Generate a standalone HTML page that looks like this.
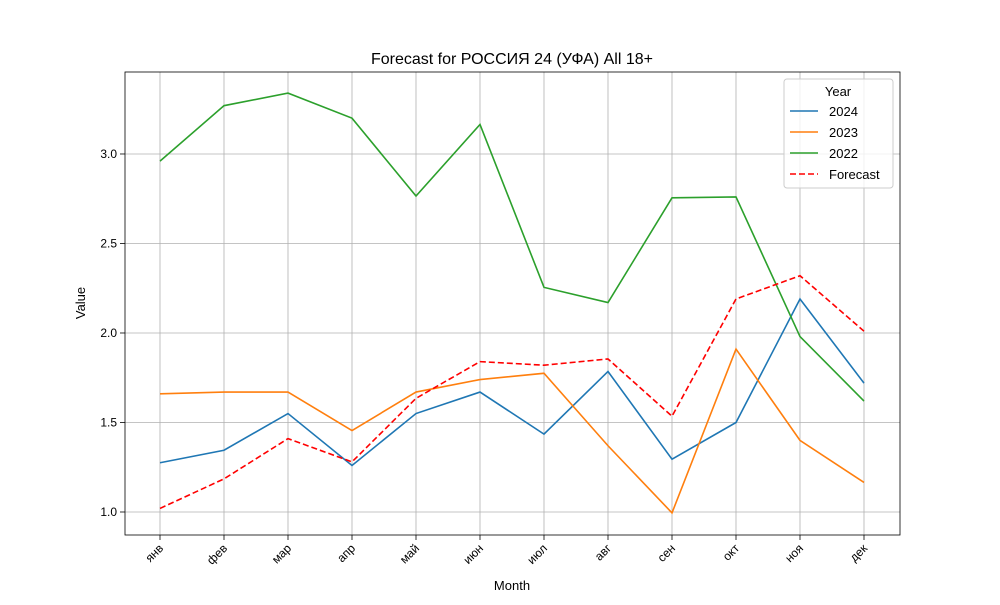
<!DOCTYPE html>
<html><head><meta charset="utf-8"><style>
body{margin:0;background:#fff;font-family:"Liberation Sans","DejaVu Sans",sans-serif}
</style></head><body>
<svg id="chart" width="1000" height="600" xmlns="http://www.w3.org/2000/svg"></svg>
<script>
const months=["янв","фев","мар","апр","май","июн","июл","авг","сен","окт","ноя","дек"];
const s2024=[1.275,1.345,1.55,1.26,1.55,1.67,1.435,1.785,1.295,1.50,2.19,1.72];
const s2023=[1.66,1.67,1.67,1.455,1.67,1.74,1.775,1.37,0.995,1.91,1.40,1.165];
const s2022=[2.96,3.27,3.34,3.20,2.765,3.165,2.255,2.17,2.755,2.76,1.98,1.62];
const forecast=[1.02,1.185,1.41,1.28,1.635,1.84,1.82,1.855,1.535,2.19,2.32,2.01];
const yTicks=[1.0,1.5,2.0,2.5,3.0];

const svg=document.getElementById('chart');
const NS="http://www.w3.org/2000/svg";
const L=125,R=900,T=72,B=535,yMin=0.8715,yMax=3.458;
const x=i=>160+i*(864-160)/(months.length-1);
const y=v=>B-(v-yMin)/(yMax-yMin)*(B-T);
function mk(tag,attrs,parent){const e=document.createElementNS(NS,tag);for(const k in attrs)e.setAttribute(k,attrs[k]);(parent||svg).appendChild(e);return e;}

const title=mk('text',{x:512,y:64,'text-anchor':'middle','font-size':16,fill:'#000'});
title.textContent="Forecast for РОССИЯ 24 (УФА) All 18+";



months.forEach((m,i)=>{
  const g=mk('line',{x1:x(i),x2:x(i),y1:T,y2:B,stroke:'#b0b0b0','stroke-width':0.8});
  
  
  mk('line',{x1:x(i),x2:x(i),y1:B,y2:B+5,stroke:'#000','stroke-width':0.8});
  const t=mk('text',{x:0,y:0,'font-size':12,'text-anchor':'end',transform:`translate(${x(i)+4},${B+14}) rotate(-45)`,fill:'#000'});
  t.textContent=m;
  
  
});
yTicks.forEach(v=>{
  const g=mk('line',{x1:L,x2:R,y1:y(v),y2:y(v),stroke:'#b0b0b0','stroke-width':0.8});
  
  
  mk('line',{x1:L-5,x2:L,y1:y(v),y2:y(v),stroke:'#000','stroke-width':0.8});
  const t=mk('text',{x:L-8,y:y(v)+4,'font-size':12,'text-anchor':'end',fill:'#000'});
  t.textContent=v.toFixed(1);
  
  
});
const frame=mk('rect',{x:L,y:T,width:R-L,height:B-T,fill:'none',stroke:'#000','stroke-width':0.8});



const xl=mk('text',{x:512,y:590,'text-anchor':'middle','font-size':13});
xl.textContent="Month";


const yl=mk('text',{x:0,y:0,'text-anchor':'middle','font-size':13,transform:'translate(85,303) rotate(-90)'});
yl.textContent="Value";



const series=[[s2024,'#1f77b4','','line-2024'],[s2023,'#ff7f0e','','line-2023'],[s2022,'#2ca02c','','line-2022'],[forecast,'#ff0000','6,3','line-forecast']];
series.forEach(([d,c,dash,name])=>{
  const p=mk('polyline',{points:d.map((v,i)=>x(i)+','+y(v)).join(' '),fill:'none',stroke:c,'stroke-width':1.6,'stroke-dasharray':dash});
  
  
});

const lg=mk('g',{});


mk('rect',{x:784,y:79,width:109,height:109,rx:3,fill:'#fff','fill-opacity':0.8,stroke:'#ccc'},lg);
const lt=mk('text',{x:838,y:96,'text-anchor':'middle','font-size':13},lg);lt.textContent="Year";
[['2024','#1f77b4',''],['2023','#ff7f0e',''],['2022','#2ca02c',''],['Forecast','#ff0000','6,3']].forEach((e,i)=>{
  const yy=111+i*21;
  const en=mk('g',{},lg);
  
  
  mk('line',{x1:790,x2:818,y1:yy,y2:yy,stroke:e[1],'stroke-width':1.6,'stroke-dasharray':e[2]},en);
  const t=mk('text',{x:829,y:yy+5,'font-size':13},en);t.textContent=e[0];
});
</script>
</body></html>
